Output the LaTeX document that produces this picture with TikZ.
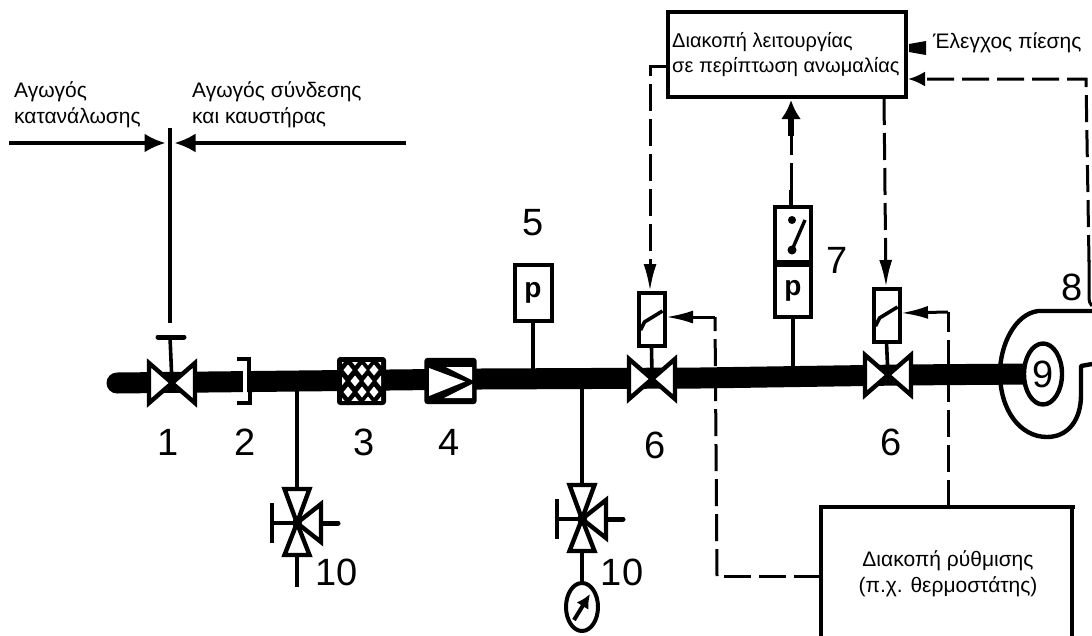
\documentclass[tikz,border=0pt]{standalone}
\usepackage{fontspec}
\setmainfont{Liberation Sans}
\usetikzlibrary{arrows.meta,shapes.geometric}
\tikzset{
 pipeline/.style={line width=21pt,black},
 stem/.style={line width=3.6pt,black},
 symbolbox/.style={draw,line width=4pt,fill=white,inner sep=0pt,minimum width=#1},
 valvebody/.style={draw,line width=4.4pt,fill=white,line join=miter},
 signal/.style={line width=3pt,dash pattern=on 27pt off 8pt},
 tag/.style={font=\fontsize{38}{38}\selectfont,inner sep=0pt},
 caption/.style={font=\fontsize{21}{26}\selectfont,inner sep=0pt,align=left,anchor=base west},
 ptext/.style={font=\bfseries\fontsize{28}{28}\selectfont,inner sep=0pt},
 solhead/.style={-{Latex[length=27pt,width=13pt]}},
 gate/.pic={
  \draw[valvebody] (-23,-20) -- (-23,20) -- (23,-20) -- (23,20) -- cycle;
  \fill (0,0) circle (2.5pt);
 },
 threeway/.pic={
  \draw[valvebody] (-12.5,-34) -- (12.5,-34) -- (0,0) -- cycle;
  \draw[valvebody] (-12.5,32) -- (12.5,32) -- (0,0) -- cycle;
  \draw[valvebody] (24,-19) -- (24,19) -- (0,0) -- cycle;
  \draw[line width=4.4pt] (-25,0) -- (0,0);
  \draw[line width=3.6pt] (-25,-20) -- (-25,20);
  \draw[line width=5pt,line cap=round] (25,0) -- (41,0);
  \fill (0,0) circle (5pt);
 },
 solenoid/.pic={
  \draw[line width=4pt,fill=white] (-13,-26.5) rectangle (13,26.5);
  \draw[line width=3.6pt] (-11,11) -- (-7,3) -- (11,-8);
 },
}
\begin{document}
\begin{tikzpicture}[x=1pt,y=-1pt]
\useasboundingbox (0,0) rectangle (1092,635);
% free ends
\coordinate (boundtop) at (170,128);
\coordinate (handle) at (170,337);
\coordinate (leftline) at (9,143);
\coordinate (rightline) at (406,143);
\coordinate (lefttip) at (165.5,143);
\coordinate (righttip) at (174.5,143);
\coordinate (boundend) at (170,323);
\coordinate (v1) at (172,383);
\coordinate (v6a) at (652,379);
\coordinate (v6b) at (888,375);
\coordinate (t1) at (297,523);
\coordinate (t2) at (582,519);
\coordinate (sol1) at (651.5,319);
\coordinate (sol2) at (886.5,315);
% boundary
\draw[line width=4pt] (boundtop) -- (boundend);
\draw[-{Latex[length=21pt,width=19pt]},line width=3.4pt] (leftline) -- (lefttip);
\draw[-{Latex[length=21pt,width=19pt]},line width=3.4pt] (rightline) -- (righttip);
\draw[line width=5pt,line cap=round] (158,337) -- (184,337);
\draw[stem] (handle) -- (v1);
\node[caption] (capl) at (14,123) {Αγωγός\\κατανάλωσης};
\node[caption] (capr) at (192,123) {Αγωγός σύνδεσης\\και καυστήρας};
% signal lines under the pipe
\draw[signal] (717,576) -- (715,317);
\draw[signal] (948,507) -- (948,312);
% pipe
\draw[pipeline,line cap=round] (117,383) -- (480,379) -- (700,378) -- (900,375) -- (1030,374);
% flange 2
\fill[white] (243,370) rectangle (246.5,396);
\draw[line width=3.6pt] (237,359) -- (249,359) -- (249,373);
\draw[line width=3.6pt] (237,403) -- (250,403) -- (250,390);
% filter 3
\node[draw,line width=3pt,fill=black,rounded corners=2pt,minimum width=46pt,minimum height=45pt,inner sep=0pt] (filter) at (361.5,381) {};
\begin{scope}
\clip (342,362.5) rectangle (381,400);
\foreach \cx/\cy in {348/370,362/370,374/370,341/381,355/381,368/381,381/381,348/392,362/392,374/392,355/360,368/360,355/402,368/402,341/360,381/360,341/402,381/402}
  \fill[white] (\cx,\cy-5.5) -- (\cx+4.5,\cy) -- (\cx,\cy+5.5) -- (\cx-4.5,\cy) -- cycle;
\end{scope}
% device 4
\node[draw,line width=3.4pt,fill=black,rounded corners=2pt,minimum width=49pt,minimum height=43pt,inner sep=0pt] (dev) at (450.5,381) {};
\fill[white] (429,368) -- (465,381.5) -- (429,396) -- cycle;
\fill[white] (446,367) -- (472,367) -- (472,380) -- cycle;
\fill[white] (444,398) -- (472,384) -- (472,398) -- cycle;
% valves
\pic at (v1) {gate};
\pic at (v6a) {gate};
\pic at (v6b) {gate};
\pic at (sol1) {solenoid};
\pic at (sol2) {solenoid};
\coordinate (sol1b) at (651.5,347); \coordinate (sol2b) at (886.5,343);
\coordinate (sol1t) at (650,291); \coordinate (sol2t) at (886,287);
\coordinate (sol1r) at (666,317); \coordinate (sol2r) at (901,313);
\draw[stem] (sol1b) -- (v6a);
\draw[stem] (sol2b) -- (v6b);
% gauge 5
\node[symbolbox=37pt,minimum height=56pt,ptext] (g5) at (533,293) {p};
\draw[stem] (g5.south) -- (533,372);
% switch 7
\node[symbolbox=36pt,minimum height=55pt] (sw) at (793,234) {};
\node[symbolbox=36pt,minimum height=52pt,ptext] (g7) at (793,291) {p};
\fill (792,220) circle (4pt);
\fill (792,250) circle (4.5pt);
\draw[line width=3.4pt] (792,250) -- (805,220);
\draw[stem] (g7.south) -- (793,370);
\coordinate (swtop) at (791,205);
\coordinate (swup) at (791,190);
\draw[stem] (swtop) -- (swup);
% branches
\draw[stem] (297,390) -- (t1);
\draw[stem] (582,388) -- (t2);
\pic at (t1) {threeway};
\pic at (t2) {threeway};
\draw[stem] (297,557) -- (297,587);
\draw[stem] (582,553) -- (582,582);
\node[draw,ellipse,line width=4pt,fill=white,minimum width=32pt,minimum height=48pt,inner sep=0pt] (meter) at (582,607) {};
\draw[-{Latex[length=14pt,width=14pt]},line width=4pt] (574,620) -- (590,594);
% fan
\draw[line width=4.4pt,line join=round] (1092,311) -- (1038,311) .. controls (1015,314) and (1000,345) .. (1000,373) .. controls (1000,410) and (1020,437) .. (1047,437) .. controls (1068,437) and (1081,420) .. (1081,395) -- (1081,366) -- (1092,364);
\node[draw,ellipse,line width=4.4pt,fill=white,minimum width=38pt,minimum height=61pt,inner sep=0pt] (fan) at (1043,374) {};
\node[tag] (n9) at (1043,374) {9};
\draw[line width=3pt] (1089,260) -- (1089,296) .. controls (1089,302) and (1090,304) .. (1092,306);
% boxes
\node[draw,line width=4pt,minimum width=238pt,minimum height=85pt,inner sep=0pt] (stop) at (787,54.5) {};
\node[caption,font=\fontsize{20}{25}\selectfont] (stoptxt) at (672,72) {Διακοπή λειτουργίας\\σε περίπτωση ανωμαλίας};
\draw[line width=3.6pt] (821,640) -- (821,507) -- (1075,507);
\draw[line width=3.6pt] (1072,507) -- (1072,640);
\coordinate (ctl) at (821,576);
\coordinate (ctltop) at (948,507);
\node[caption,align=center,anchor=base] (ctltxt) at (948,592) {Διακοπή ρύθμισης\\(π.χ. θερμοστάτης)};
\draw[signal] (ctl) -- (717,576);
% signals
\draw[signal,solhead] (667,66) -| (sol1t);
\draw[signal,solhead] (884,98) -- (sol2t);
\draw[signal,solhead] (715,317) -- (sol1r);
\draw[signal,solhead] (948,312) -- (sol2r);
\draw[signal] (swup) -- (791,135);
\draw[line width=5.5pt,-{Latex[length=19pt,width=20pt]}] (791,136) -- (791,100);
\draw[signal,-{Latex[length=17pt,width=15pt]}] (1089,262) -- (1086,79) -- (908,79);
\fill (909,44) -- (926,41) -- (926,55) -- (909,52) -- cycle;
\node[caption] (press) at (933,48) {Έλεγχος πίεσης};
% numbers
\node[tag] (n1) at (168,442) {1};
\node[tag] (n2) at (245,442) {2};
\node[tag] (n3) at (364,442) {3};
\node[tag] (n4) at (449,442) {4};
\node[tag] (n5) at (533,223) {5};
\node[tag] (n6a) at (655,445) {6};
\node[tag] (n6b) at (891,442) {6};
\node[tag] (n7) at (837,260) {7};
\node[tag] (n8) at (1072,287) {8};
\node[tag] (n10a) at (337,572) {10};
\node[tag] (n10b) at (622,572) {10};
\end{tikzpicture}
\end{document}
